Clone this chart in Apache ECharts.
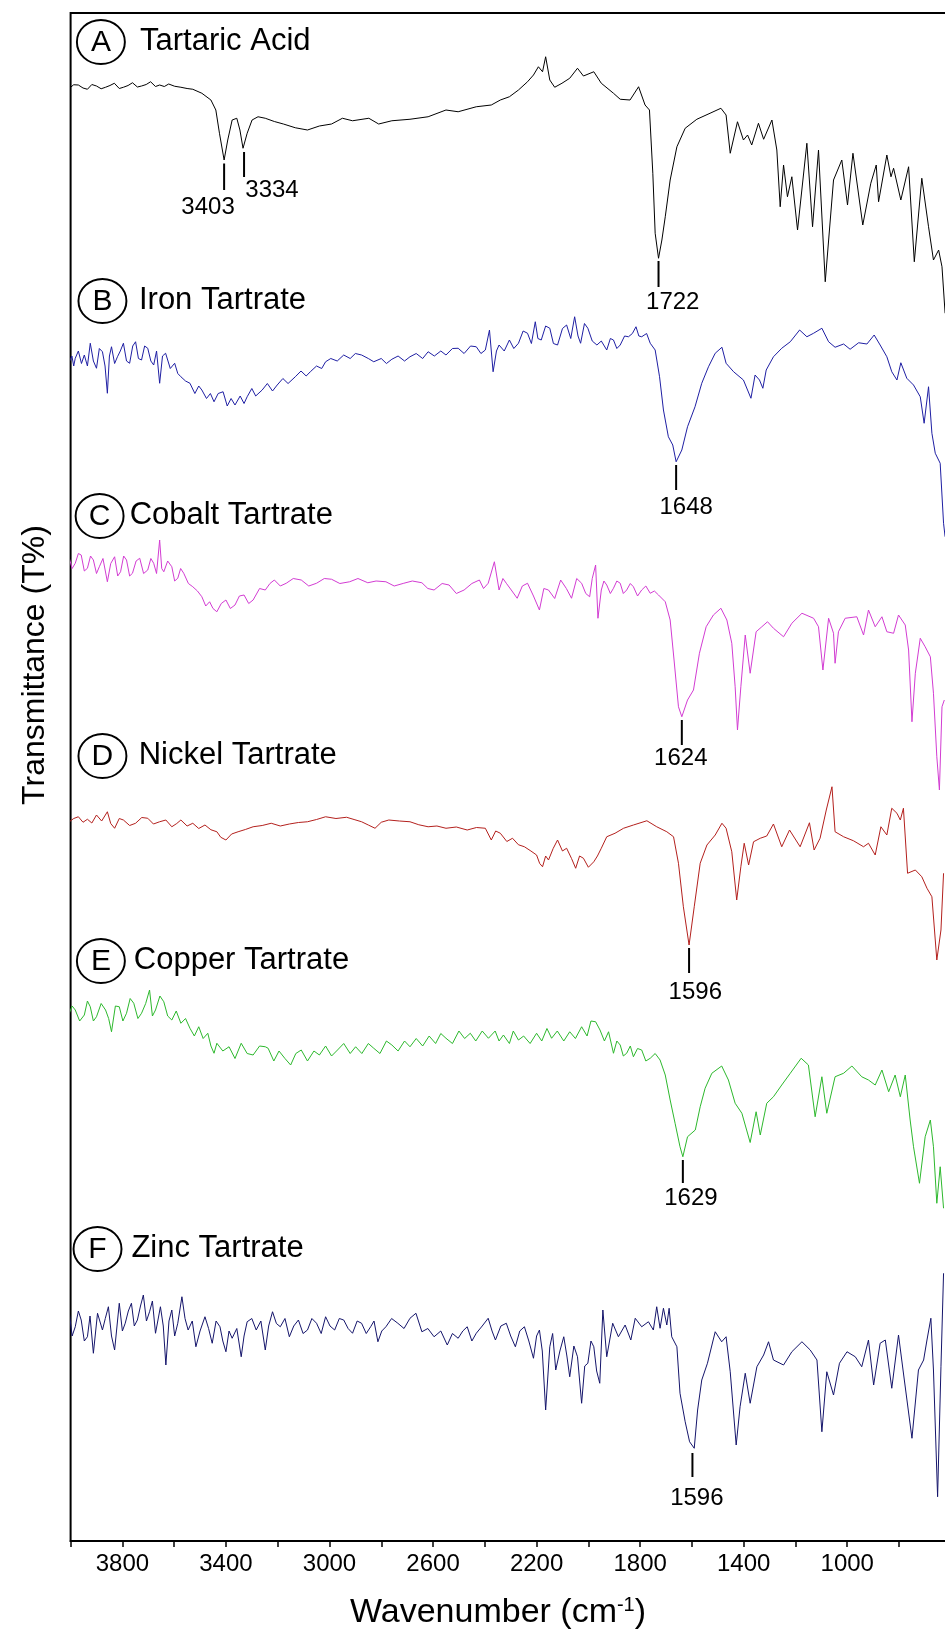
<!DOCTYPE html>
<html>
<head>
<meta charset="utf-8">
<title>FTIR spectra - tartaric acid and metal tartrates</title>
<script src="https://cdn.jsdelivr.net/npm/echarts@6.0.0/dist/echarts.min.js"></script>
<style>
  html, body { margin: 0; padding: 0; background: #fff; overflow: hidden; }
  #chart { width: 960px; height: 1631px; }
</style>
</head>
<body>
<div id="chart"></div>
<script>
// wavenumber (cm-1), transmittance in each trace's own units
var tartaricAcid = [[4005,101.1],[3988,102.5],[3970,102.4],[3952,101.2],[3935,100.7],[3918,102.6],[3900,102],[3882,100.9],[3865,101.5],[3848,102.2],[3831,103.1],[3812,101],[3796,101.5],[3778,102.2],[3761,103.3],[3742,101.6],[3726,102],[3708,102.6],[3691,103.7],[3672,101.8],[3656,102.4],[3638,101.8],[3621,102.8],[3598,101.9],[3574,101.5],[3550,101],[3528,100.7],[3493,99.1],[3458,96.4],[3439,92.4],[3425,83.1],[3407,72.4],[3393,80.4],[3376,88.4],[3358,89.1],[3346,84.4],[3334,77.1],[3318,83.1],[3299,88.4],[3276,89.7],[3248,89.1],[3213,87.8],[3178,86.8],[3132,85.3],[3085,84.4],[3039,86],[2992,86.8],[2950,89.1],[2911,88.1],[2848,89.1],[2810,86.8],[2759,88.1],[2689,88.7],[2619,89.7],[2550,92.4],[2503,91.7],[2433,93.7],[2375,94.4],[2340,96.4],[2305,97.7],[2270,100.4],[2235,103.7],[2212,106.4],[2193,109.7],[2177,107.7],[2165,113.7],[2149,104.4],[2130,101.5],[2102,103.1],[2072,105.1],[2042,109.1],[2019,106],[1979,107.7],[1950,103.1],[1903,99.1],[1877,96.7],[1839,96.4],[1806,101.7],[1781,94.4],[1764,92.4],[1751,67.1],[1742,43.1],[1729,33.1],[1716,40.4],[1703,49.7],[1684,64.4],[1658,77.7],[1626,85.1],[1581,88.7],[1530,91.1],[1488,93.1],[1468,90.4],[1452,75.1],[1424,87.7],[1401,80.4],[1385,82.4],[1369,78.4],[1343,87.1],[1323,80.7],[1291,88.4],[1272,76.4],[1259,53.7],[1246,70.4],[1231,57.7],[1214,65.7],[1192,44.4],[1156,79.1],[1134,45.7],[1111,76.4],[1085,23.7],[1053,64.4],[1021,72.4],[999,54.4],[978,75.1],[940,46.4],[909,63.1],[888,70.4],[879,55.7],[847,74.4],[831,65.7],[821,69.1],[793,56.4],[763,69.7],[741,31.7],[712,65.1],[686,45.7],[667,32.4],[647,36.4],[634,29.7],[622,11.1]];

var ironTartrate = [[4005,81.7],[3995,84],[3988,80],[3982,83.1],[3970,86],[3958,81],[3947,84.4],[3935,80],[3924,89.1],[3912,82],[3900,79.1],[3889,87],[3877,85.7],[3867,80],[3858,69.1],[3850,84],[3842,87.7],[3830,81],[3819,83.7],[3808,86],[3796,89.1],[3784,82],[3772,81.1],[3760,88],[3749,89.7],[3738,83],[3726,82.4],[3714,88],[3702,87.1],[3690,82],[3679,80.4],[3668,86],[3656,73.1],[3645,84],[3633,85.1],[3615,79],[3598,81.1],[3586,77],[3574,75.7],[3556,74],[3539,73.1],[3520,69],[3505,72],[3493,70.4],[3475,67],[3460,69],[3446,65.7],[3430,69],[3411,69.7],[3395,64],[3380,67],[3365,64.4],[3345,68],[3330,65],[3318,67.7],[3300,71],[3285,68],[3260,70.4],[3240,73],[3220,70],[3202,72.4],[3180,75],[3160,73],[3132,75.7],[3110,78],[3090,76],[3074,77.7],[3050,80],[3030,79],[3015,81.7],[2995,83],[2970,82],[2945,84.4],[2920,83],[2900,85],[2876,84.4],[2850,83],[2829,81.7],[2800,83],[2780,81],[2759,82.7],[2735,84],[2710,82],[2689,83.7],[2665,85],[2640,83],[2619,85.7],[2595,84],[2570,86],[2550,84.4],[2525,87],[2503,87.1],[2480,85],[2455,88],[2433,87.7],[2415,85],[2398,86.4],[2382,94.4],[2368,77.7],[2355,86],[2345,88.4],[2325,86],[2305,90.4],[2288,87],[2270,89.1],[2252,94],[2235,93.1],[2220,89],[2205,97.7],[2195,91],[2182,90.4],[2165,96],[2149,95.1],[2135,89],[2119,88.4],[2100,95],[2084,96.4],[2068,91],[2053,99.7],[2040,92],[2030,89.1],[2015,97],[2002,95.1],[1985,90],[1967,88.4],[1950,90],[1929,86.4],[1915,91],[1903,90.4],[1890,87],[1877,88.4],[1860,92],[1845,91.7],[1830,93],[1816,95.7],[1805,92],[1794,91.7],[1775,93],[1761,89.1],[1742,86.4],[1725,75.7],[1710,62.4],[1691,51.7],[1674,48.4],[1661,41.7],[1639,46.4],[1617,55.7],[1588,63.7],[1562,73.1],[1536,79.7],[1510,85.1],[1484,87.5],[1468,81.1],[1439,77.7],[1401,74.4],[1372,67.1],[1356,76.4],[1339,74.4],[1326,71.1],[1313,78.4],[1285,83.7],[1253,87.1],[1220,89.7],[1184,94.4],[1156,91.7],[1130,93.1],[1098,95.1],[1072,89.7],[1047,87.5],[1014,88.8],[989,86.7],[956,89.3],[924,88.8],[896,92.4],[873,88.4],[847,83.7],[828,77.7],[808,74.4],[793,81.3],[770,75.1],[744,72.4],[718,67.7],[703,57.1],[686,71.7],[673,53.1],[660,45.1],[641,41.1],[628,17.1],[622,11.7]];

var cobaltTartrate = [[4005,103.1],[3994,99],[3982,101.1],[3970,105],[3959,104.4],[3947,98],[3935,99.1],[3923,104],[3912,102.4],[3900,97],[3889,99.7],[3875,103],[3858,93.7],[3845,101],[3830,103.7],[3818,96],[3807,97.7],[3795,104],[3784,102.4],[3772,96],[3761,97.1],[3747,102],[3733,103.1],[3718,97],[3702,98.4],[3690,103],[3679,101.1],[3668,97],[3656,110.4],[3648,99],[3640,97.7],[3625,102],[3609,99.7],[3598,94],[3586,95.1],[3575,99],[3563,97.1],[3545,93],[3528,91.7],[3510,90],[3493,87.7],[3478,84],[3463,85.7],[3450,83],[3435,81.7],[3418,85],[3400,86.4],[3383,83],[3365,84.4],[3348,88],[3330,88.4],[3312,85],[3295,86.4],[3270,91],[3248,90.4],[3230,93],[3213,94.4],[3190,92],[3167,93.1],[3140,95],[3109,94.4],[3080,92],[3050,93.1],[3020,95],[2992,94.7],[2960,93],[2922,93.7],[2890,95],[2852,93.3],[2820,94],[2782,93.7],[2750,92],[2713,93.1],[2680,94],[2643,93.3],[2620,91],[2596,90.4],[2565,93],[2538,92.4],[2510,89],[2480,90.4],[2450,93],[2421,94.4],[2405,91],[2387,93.1],[2363,101.7],[2345,90.4],[2330,95],[2317,93.1],[2295,90],[2275,87.1],[2255,92],[2235,93.1],[2212,88],[2189,82.4],[2172,91],[2154,90.4],[2130,87],[2107,94.4],[2085,91],[2065,87.1],[2045,95],[2026,93.1],[2010,89],[1995,87.7],[1985,95],[1972,100.4],[1963,79.1],[1950,90.4],[1940,94],[1929,92.4],[1915,89],[1903,91.1],[1890,94],[1877,93.1],[1865,89],[1852,90.4],[1838,93],[1826,91.7],[1810,88],[1794,90.4],[1778,92],[1761,89.1],[1745,90],[1729,88.4],[1703,85.7],[1684,78.4],[1669,62.4],[1652,43.7],[1639,39.7],[1617,46.4],[1594,50.4],[1571,65.1],[1545,75.7],[1517,80.4],[1488,83.1],[1465,78.4],[1446,69.1],[1433,51.7],[1424,34.4],[1411,51.7],[1394,72.4],[1375,57.1],[1352,73.7],[1330,75.7],[1308,77.7],[1285,75.1],[1246,71.7],[1214,77.1],[1175,81.1],[1130,79.1],[1111,75.7],[1094,58.4],[1072,79.1],[1053,73.1],[1047,61.1],[1034,73.7],[1008,79.1],[963,79.7],[937,72.4],[918,82.4],[892,75.7],[866,79.7],[847,73.7],[821,73.1],[802,80.4],[776,76.4],[763,66.4],[750,37.7],[737,57.1],[718,71.1],[699,67.7],[679,63.7],[667,49.1],[654,23.7],[644,10.4],[634,43.7],[625,46.4]];

var nickelTartrate = [[4005,77.7],[3988,79],[3970,79.7],[3952,77.5],[3935,78.7],[3918,77.2],[3900,80.4],[3880,78],[3858,81.7],[3845,77],[3830,75.1],[3812,79],[3796,78.4],[3772,76.2],[3749,77.1],[3725,79.4],[3702,79.1],[3680,76.8],[3656,77.7],[3632,78.4],[3609,75.7],[3590,77],[3574,78.4],[3550,76],[3528,77.1],[3505,75],[3481,76.4],[3458,74.5],[3435,73.7],[3420,71.5],[3400,70.4],[3378,72.8],[3353,73.7],[3325,74.6],[3295,75.7],[3260,76.2],[3225,77.1],[3190,76],[3155,76.8],[3120,77.4],[3085,77.7],[3050,78.6],[3015,79.7],[2975,79],[2934,79.5],[2905,78.6],[2876,77.7],[2850,76.4],[2824,75.1],[2800,77.5],[2771,78.4],[2730,78],[2689,77.7],[2655,76.5],[2619,75.7],[2585,76],[2550,75.1],[2510,75.6],[2468,74.4],[2432,75.4],[2398,75.1],[2375,70.4],[2358,74],[2340,73.1],[2315,69.8],[2293,71.1],[2270,68.5],[2247,67.7],[2222,66],[2200,64.4],[2188,61],[2177,59.7],[2165,64],[2154,62.4],[2136,67],[2119,70.4],[2100,66],[2084,67.1],[2065,63],[2049,59.1],[2034,64],[2019,63.1],[2000,59.5],[1979,61.7],[1965,64],[1950,67.1],[1929,71.7],[1897,73.1],[1864,75.1],[1826,76.4],[1774,78.1],[1736,75.7],[1697,73.7],[1671,71.7],[1652,61.1],[1633,43.7],[1611,28.4],[1591,43.7],[1568,61.1],[1542,68.4],[1510,72.4],[1484,77.1],[1468,75.1],[1446,65.7],[1427,46.4],[1411,59.7],[1398,69.1],[1381,60.4],[1362,69.7],[1336,71.1],[1311,72],[1285,76.8],[1253,67.7],[1223,74.4],[1182,67.7],[1146,77.3],[1128,66.4],[1105,71.1],[1081,82.4],[1059,91.7],[1047,73.7],[1014,71.7],[976,70.1],[937,67.7],[918,69.1],[892,64.4],[870,75.7],[847,72.4],[828,83.1],[808,81.1],[795,78.4],[783,83.1],[767,57.1],[737,58.4],[712,55.7],[692,51.1],[673,47.7],[654,22.4],[638,34.4],[628,57.1]];

var copperTartrate = [[4005,81.1],[3994,84],[3982,82.4],[3965,78],[3947,80.4],[3935,86],[3924,83.7],[3912,78],[3900,79.7],[3882,85],[3865,82.4],[3853,79],[3842,73.7],[3827,84],[3812,83.7],[3798,78],[3784,81.1],[3770,87],[3756,85.1],[3740,79],[3726,81.1],[3710,85],[3695,90.4],[3684,80],[3672,82.4],[3655,88],[3640,85.7],[3625,80],[3609,78.4],[3592,82],[3574,77.1],[3556,79],[3539,75.1],[3522,72],[3505,75.7],[3488,71],[3470,73.1],[3458,68],[3446,65.1],[3435,69.1],[3412,66],[3388,67.7],[3365,63],[3341,69.1],[3318,65],[3295,64.4],[3270,68],[3248,67.7],[3237,67.1],[3215,62],[3195,66],[3172,63],[3150,60.4],[3130,65],[3109,66.4],[3085,62],[3060,66],[3039,64.4],[3015,68],[2992,64],[2969,66.4],[2945,69],[2920,65],[2899,67.7],[2875,65],[2850,69],[2829,67.1],[2805,65],[2780,70],[2759,68.4],[2735,66],[2710,70],[2689,67.7],[2665,71],[2640,68],[2615,72],[2590,69],[2570,73],[2550,71.1],[2525,69],[2500,74],[2478,71],[2456,73.1],[2435,70],[2410,74],[2386,71.1],[2360,74],[2345,70],[2328,72.4],[2305,69],[2290,74],[2270,70.4],[2250,72],[2225,69],[2200,73.1],[2180,70],[2160,75],[2142,71.1],[2120,74],[2095,70],[2072,73.7],[2050,71],[2026,75.7],[2005,72],[1990,78],[1972,77.7],[1955,74.4],[1938,70],[1922,73.7],[1903,65.1],[1890,70],[1877,68.4],[1865,64],[1852,65.1],[1838,68],[1826,63.7],[1810,67],[1794,66.4],[1778,62],[1761,63.1],[1742,65],[1723,62.4],[1703,56.4],[1684,46.4],[1665,37.1],[1646,27.7],[1635,23.7],[1617,31.7],[1587,34.4],[1568,43.7],[1549,51.1],[1523,57.1],[1485,60],[1459,54.4],[1433,45.1],[1407,41.1],[1375,29.4],[1352,41.7],[1336,32.4],[1311,45.1],[1285,47.7],[1253,52.4],[1220,57.1],[1178,63.1],[1150,60.4],[1124,39.7],[1098,55.7],[1079,41.1],[1047,55.7],[1014,57.1],[982,60],[944,55.7],[918,54.4],[892,52.4],[866,58.4],[840,49.7],[815,56.4],[795,47.7],[776,56.4],[757,38.4],[744,27.7],[721,13.1],[699,31.7],[679,38.4],[667,27.7],[654,5.1],[641,19.7],[628,3.1]];

var zincTartrate = [[4005,81.1],[3994,72],[3982,75.7],[3970,82],[3959,78.4],[3947,70],[3935,71.7],[3925,80],[3912,65.1],[3896,81.1],[3877,74.4],[3866,79],[3854,83.7],[3842,72],[3830,66.4],[3812,85.1],[3800,74],[3789,77.1],[3777,82],[3765,85.1],[3754,76],[3742,78.4],[3730,84],[3719,88.4],[3707,78],[3695,81.7],[3684,86],[3672,73.1],[3653,83.7],[3642,76],[3632,60.4],[3620,78],[3609,82.4],[3598,72],[3586,77.1],[3570,87.7],[3558,79],[3546,74.4],[3530,78],[3516,67.7],[3500,74],[3481,79.7],[3467,75],[3453,69.1],[3438,78],[3423,75.7],[3412,70],[3400,65.7],[3388,74],[3376,71.1],[3358,75],[3341,63.7],[3330,72],[3318,77.7],[3300,79],[3283,74.4],[3265,78],[3248,66.4],[3235,76],[3220,81.7],[3205,77],[3190,75.7],[3172,79],[3155,71.7],[3138,76],[3120,78.4],[3102,73],[3085,74.4],[3068,79],[3050,77.1],[3032,73],[3015,79.7],[2998,76],[2980,74.4],[2962,79],[2945,78.4],[2928,75],[2911,73.1],[2893,78],[2876,77.1],[2858,73],[2841,75.7],[2828,78],[2813,69.7],[2798,74],[2782,75.7],[2760,79],[2736,77.1],[2712,75],[2689,79.1],[2666,81.1],[2643,73.7],[2620,75],[2596,71.7],[2570,74],[2545,68.4],[2525,73],[2503,71.1],[2485,74],[2468,75.7],[2450,70],[2433,73.1],[2410,76],[2387,79.1],[2372,74],[2359,70.4],[2338,76],[2317,77.1],[2300,72],[2282,67.7],[2265,74],[2247,75.7],[2230,70],[2212,63.1],[2200,72],[2189,74.4],[2178,66],[2165,42.4],[2149,67.7],[2138,73],[2126,58.4],[2110,66],[2095,71.7],[2083,64],[2072,55.7],[2056,68],[2042,63.7],[2026,45.1],[2014,60],[2002,61.1],[1990,70],[1979,67.7],[1968,58],[1956,53.1],[1944,82.4],[1929,63.7],[1906,77.1],[1884,71.7],[1858,76.4],[1836,70.4],[1819,79.1],[1794,75.7],[1768,77.7],[1749,74.4],[1736,83.7],[1723,75.1],[1710,83.1],[1697,76.4],[1688,83.1],[1678,71.7],[1658,67.7],[1646,49.1],[1626,37.7],[1609,29.7],[1591,27.1],[1578,42.4],[1562,54.4],[1540,61.1],[1510,73.7],[1485,69.7],[1468,71.7],[1452,57.7],[1429,28.4],[1414,43.7],[1394,57.1],[1375,45.1],[1349,59.7],[1323,64.4],[1304,69.7],[1285,62.4],[1246,60.4],[1214,65.7],[1175,69.7],[1143,66.4],[1117,62.4],[1098,33.7],[1079,57.7],[1053,48.4],[1030,61.1],[1001,65.7],[969,63.7],[944,59.7],[918,70.4],[898,52.4],[873,69.1],[853,70.4],[828,51.1],[802,72.4],[782,56.4],[750,31.1],[725,58.4],[705,62.4],[692,70.4],[677,79.1],[667,58.4],[651,7.7],[638,59.7],[628,97.1]];

var spectra = [tartaricAcid, ironTartrate, cobaltTartrate, nickelTartrate, copperTartrate, zincTartrate];
var sampleLetters = ['A', 'B', 'C', 'D', 'E', 'F'];
var sampleNames = ['Tartaric Acid', 'Iron Tartrate', 'Cobalt Tartrate', 'Nickel Tartrate', 'Copper Tartrate', 'Zinc Tartrate'];
var traceOffsets = [480, 390, 290, 210, 130, 10];
var wavenumberTicks = [3800, 3400, 3000, 2600, 2200, 1800, 1400, 1000];

// where each sample name sits: [circle wn, text wn, level]
var nameAnchors = [[3883, 3732, 119.6], [3877, 3736, 106], [3888, 3772, 120], [3877, 3737, 104], [3883, 3756, 102], [3896, 3765, 106.8]];

// peak marks: [trace, text, wn, tick top, tick bottom, label wn, label level]
var peakMarks = [
  [0, '3403', 3407, 71, 60.4, 3469, 53.6],
  [0, '3334', 3330, 75.6, 65.6, 3222, 60.4],
  [0, '1722', 1729, 32, 21.6, 1674, 15.6],
  [1, '1648', 1661, 40.4, 30.4, 1622, 23.6],
  [2, '1624', 1639, 38.4, 28.4, 1643, 23.2],
  [3, '1596', 1611, 27.2, 17.2, 1587, 9.6],
  [4, '1629', 1635, 22.4, 13.2, 1604, 7.2],
  [5, '1596', 1598, 25.2, 15.6, 1581, 7.2]
];

var lineColors = ['#000000', '#1f1fa3', '#d23cd2', '#b3201d', '#2db82d', '#15156b'];
var FONT = '"Liberation Sans", Arial, sans-serif';

var chart = echarts.init(document.getElementById('chart'));

var series = spectra.map(function (pts, i) {
  return {
    name: sampleNames[i],
    type: 'line',
    symbol: 'none',
    silent: true,
    animation: false,
    lineStyle: { color: lineColors[i], width: 1 },
    data: pts.map(function (p) { return [p[0], p[1] + traceOffsets[i]]; })
  };
});

// circled letter + sample name
series.push({
  type: 'custom',
  silent: true,
  animation: false,
  z: 5,
  data: nameAnchors.map(function (a, i) { return [a[0], a[2] + traceOffsets[i]]; }),
  renderItem: function (params, api) {
    var i = params.dataIndex;
    var a = nameAnchors[i];
    var c = api.coord([a[0], a[2] + traceOffsets[i]]);
    var t = api.coord([a[1], a[2] + traceOffsets[i]]);
    return {
      type: 'group',
      children: [
        { type: 'circle', x: c[0], y: c[1], scaleX: 1.09, shape: { cx: 0, cy: 0, r: 22 },
          style: { fill: 'none', stroke: '#000', lineWidth: 1.8 } },
        { type: 'text', x: c[0], y: c[1] + 1,
          style: { text: sampleLetters[i], font: '30px ' + FONT, fill: '#000', align: 'center', verticalAlign: 'middle' } },
        { type: 'text', x: t[0], y: t[1] - 1,
          style: { text: sampleNames[i], font: '31px ' + FONT, fill: '#000', align: 'left', verticalAlign: 'middle' } }
      ]
    };
  }
});

// peak tick marks with wavenumber labels
series.push({
  type: 'custom',
  silent: true,
  animation: false,
  z: 5,
  data: peakMarks.map(function (m) { return [m[2], m[3] + traceOffsets[m[0]]]; }),
  renderItem: function (params, api) {
    var m = peakMarks[params.dataIndex];
    var off = traceOffsets[m[0]];
    var p1 = api.coord([m[2], m[3] + off]);
    var p2 = api.coord([m[2], m[4] + off]);
    var pt = api.coord([m[5], m[6] + off]);
    return {
      type: 'group',
      children: [
        { type: 'line', shape: { x1: p1[0], y1: p1[1], x2: p2[0], y2: p2[1] },
          style: { stroke: '#000', lineWidth: 2 } },
        { type: 'text', x: pt[0], y: pt[1],
          style: { text: m[1], font: '24px ' + FONT, fill: '#000', align: 'center', verticalAlign: 'middle' } }
      ]
    };
  }
});

chart.setOption({
  backgroundColor: '#fff',
  animation: false,
  grid: {
    left: 70.6,
    right: 9.2,
    top: 13,
    bottom: 90,
    show: true,
    borderColor: '#000',
    borderWidth: 2
  },
  xAxis: {
    type: 'value',
    inverse: true,
    min: 600,
    max: 4000,
    interval: 200,
    axisLine: { lineStyle: { color: '#000', width: 2 } },
    axisTick: { show: true, length: 6, lineStyle: { color: '#000', width: 1.5 } },
    splitLine: { show: false },
    axisLabel: {
      color: '#000',
      fontSize: 24,
      fontFamily: FONT,
      margin: 11,
      formatter: function (v) {
        return wavenumberTicks.indexOf(v) >= 0 ? String(v) : '';
      }
    }
  },
  yAxis: {
    type: 'value',
    min: 0,
    max: 611.2,
    axisLine: { show: false },
    axisTick: { show: false },
    axisLabel: { show: false },
    splitLine: { show: false }
  },
  graphic: [
    {
      type: 'text',
      x: 35,
      y: 665,
      rotation: Math.PI / 2,
      style: {
        text: 'Transmittance (T%)',
        font: '32px ' + FONT,
        fill: '#000',
        align: 'center',
        verticalAlign: 'middle'
      }
    },
    {
      type: 'text',
      x: 498,
      y: 1613,
      style: {
        text: 'Wavenumber (cm{sup|-1})',
        font: '34px ' + FONT,
        fill: '#000',
        align: 'center',
        verticalAlign: 'middle',
        rich: {
          sup: { fontSize: 20, fontFamily: FONT, verticalAlign: 'top', padding: [0, 0, 15, 0] }
        }
      }
    }
  ],
  series: series
});

window.onresize = function () {
  chart.resize();
};
</script>
</body>
</html>
